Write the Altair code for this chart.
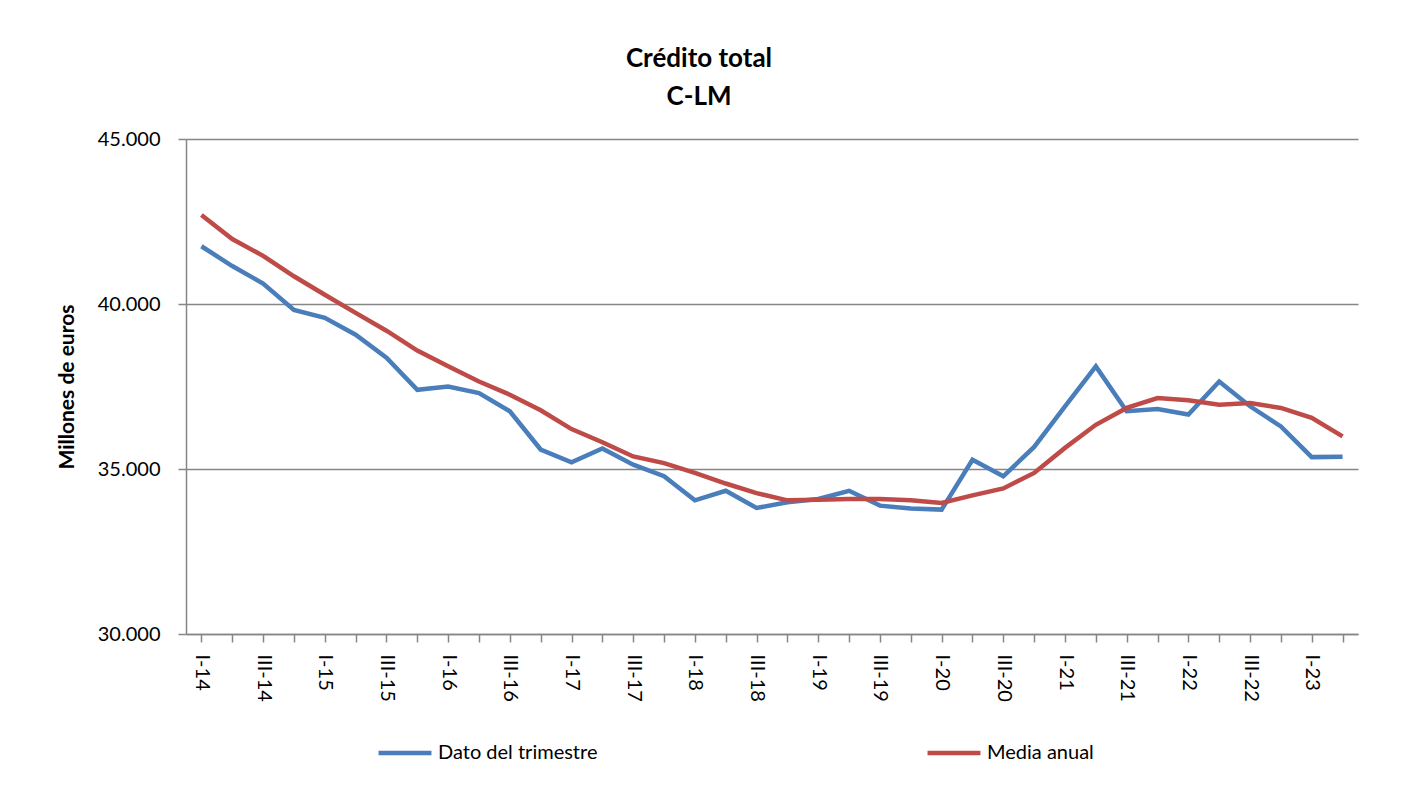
import altair as alt
import pandas as pd

quarters = [
    "I-14", "II-14", "III-14", "IV-14",
    "I-15", "II-15", "III-15", "IV-15",
    "I-16", "II-16", "III-16", "IV-16",
    "I-17", "II-17", "III-17", "IV-17",
    "I-18", "II-18", "III-18", "IV-18",
    "I-19", "II-19", "III-19", "IV-19",
    "I-20", "II-20", "III-20", "IV-20",
    "I-21", "II-21", "III-21", "IV-21",
    "I-22", "II-22", "III-22", "IV-22",
    "I-23", "II-23",
]

dato_trimestre = [
    41750, 41150, 40620, 39820,
    39580, 39070, 38370, 37400,
    37500, 37300, 36750, 35590,
    35200, 35620, 35130, 34780,
    34050, 34340, 33820, 33990,
    34090, 34340, 33890, 33800,
    33770, 35280, 34780, 35670,
    36900, 38110, 36750, 36820,
    36650, 37650, 36900, 36290,
    35360, 35370,
]

media_anual = [
    42700, 41970, 41460, 40840,
    40280, 39730, 39190, 38590,
    38110, 37650, 37250, 36780,
    36210, 35810, 35380, 35180,
    34880, 34560, 34270, 34050,
    34070, 34090, 34090, 34050,
    33970, 34200, 34410, 34880,
    35640, 36340, 36850, 37150,
    37080, 36950, 37000, 36850,
    36550, 35990,
]

series_names = ["Dato del trimestre", "Media anual"]
series_colors = ["#4A7EBB", "#BE4B48"]
y_ticks = [30000, 35000, 40000, 45000]

rows = []
for name, vals in zip(series_names, [dato_trimestre, media_anual]):
    for i, (q, v) in enumerate(zip(quarters, vals)):
        rows.append({"idx": i, "trimestre": q, "valor": v, "serie": name})
df = pd.DataFrame(rows)

FONT = "Lato"
GRID = "#868686"
n = len(quarters)
label_array = "[" + ",".join("'" + q + "'" for q in quarters) + "]"
x_label_expr = (
    "(datum.value % 2 == 0 && datum.value < " + str(n) + ") ? "
    + label_array + "[datum.value] : ''"
)

x_enc = alt.X(
    "idx:Q",
    scale=alt.Scale(domain=[-0.5, n - 0.5], nice=False, zero=False),
    axis=alt.Axis(
        title=None,
        orient="bottom",
        values=list(range(0, n)),
        labelAngle=90,
        labelAlign="left",
        labelBaseline="middle",
        labelFont=FONT,
        labelFontSize=20,
        labelColor="#000000",
        labelPadding=12,
        labelExpr=x_label_expr,
        tickSize=8,
        tickColor=GRID,
        tickWidth=1.5,
        domainColor=GRID,
        domainWidth=1.5,
        grid=False,
        labelOverlap=False,
        labelFlush=False,
    ),
)

y_enc = alt.Y(
    "valor:Q",
    scale=alt.Scale(domain=[30000, 45000], nice=False, zero=False),
    axis=alt.Axis(
        title="Millones de euros",
        titleFont=FONT,
        titleFontSize=21,
        titleFontWeight="bold",
        titleColor="#000000",
        titlePadding=20,
        values=y_ticks,
        labelExpr="replace(format(datum.value, ','), ',', '.')",
        labelFont=FONT,
        labelFontSize=20,
        labelColor="#000000",
        labelPadding=18,
        tickSize=8,
        tickColor=GRID,
        tickWidth=1.5,
        domainColor=GRID,
        domainWidth=1.5,
        grid=True,
        gridColor=GRID,
        gridWidth=1.5,
    ),
)

chart = alt.Chart(df).mark_line(strokeWidth=4.5).encode(
    x=x_enc,
    y=y_enc,
    color=alt.Color(
        "serie:N",
        scale=alt.Scale(domain=series_names, range=series_colors),
        legend=alt.Legend(
            title=None,
            orient="none",
            direction="horizontal",
            legendX=190,
            legendY=585,
            symbolType="stroke",
            symbolSize=2800,
            symbolStrokeWidth=4.5,
            labelFont=FONT,
            labelFontSize=20,
            labelColor="#000000",
            labelOffset=4,
            columnPadding=320,
        ),
    ),
).properties(
    width=1172,
    height=495,
    autosize=alt.AutoSizeParams(type="none"),
    padding={"left": 178, "top": 131, "right": 42, "bottom": 163},
    title=alt.TitleParams(
        text=["Crédito total", "C-LM"],
        font=FONT,
        fontSize=26,
        fontWeight="bold",
        color="#000000",
        anchor="middle",
        frame="group",
        dx=-73,
        offset=19,
        lineHeight=38,
    ),
).configure_view(strokeWidth=0)

chart.save("out.html", embed_options={"renderer": "svg", "actions": False})
